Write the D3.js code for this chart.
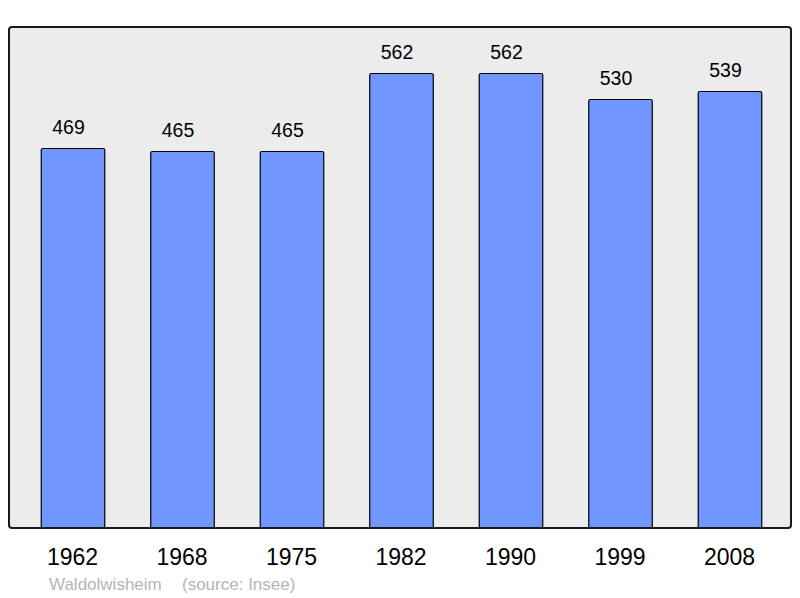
<!DOCTYPE html>
<html>
<head>
<meta charset="utf-8">
<script src="https://cdn.jsdelivr.net/npm/d3@7"></script>
<style>
	body { margin: 0; background: #ffffff; }
	text { font-family: "Liberation Sans", Arial, sans-serif; }
	.val { font-size: 19.5px; fill: #000; }
	.note { font-size: 17px; fill: #b5b5b5; }
</style>
</head>
<body>
<svg></svg>
<script>
	var years = ["1962", "1968", "1975", "1982", "1990", "1999", "2008"];
	var population = [469, 465, 465, 562, 562, 530, 539];
	var commune = "Waldolwisheim";
	var source = "(source: Insee)";

	var size = { wt: 800, ht: 598 };
	var plot = { x0: 9, x1: 791, y0: 27, y1: 528 };

	var svg = d3.select("svg")
		.attr("width", size.wt)
		.attr("height", size.ht);

	var xScale = d3.scaleBand()
		.domain(years)
		.range([plot.x0, plot.x1 + 2])
		.paddingInner(0.42)
		.paddingOuter(0.29);

	var yScale = d3.scaleLinear()
		.domain([0, 620])
		.range([plot.y1, plot.y0]);

	// frame
	svg.append("rect")
		.attr("x", plot.x0).attr("y", plot.y0)
		.attr("width", plot.x1 - plot.x0)
		.attr("height", plot.y1 - plot.y0)
		.attr("rx", 3).attr("ry", 3)
		.style("fill", "#ececec")
		.style("stroke", "none");

	var data = years.map(function (y, i) { return { year: y, value: population[i] }; });

	svg.append("g").selectAll("rect").data(data)
		.enter()
		.append("rect")
		.attr("x", function (d) { return xScale(d.year) + 0.5; })
		.attr("y", function (d) { return Math.round(yScale(d.value)) - 0.5; })
		.attr("width", xScale.bandwidth())
		.attr("height", function (d) { return plot.y1 - Math.round(yScale(d.value)) + 1; })
		.attr("rx", 1.5)
		.style("fill", "#7097ff")
		.style("stroke", "#000")
		.style("stroke-width", 1.2);

	// value labels sit a little left of the bar centre in the original
	svg.append("g").selectAll("text").data(data)
		.enter()
		.append("text")
		.attr("class", "val")
		.attr("text-anchor", "middle")
		.attr("x", function (d) { return xScale(d.year) + xScale.bandwidth() / 2 - 4; })
		.attr("y", function (d) { return yScale(d.value) - 15; })
		.text(function (d) { return d.value; });

	// frame outline on top
	svg.append("rect")
		.attr("x", plot.x0).attr("y", plot.y0)
		.attr("width", plot.x1 - plot.x0)
		.attr("height", plot.y1 - plot.y0)
		.attr("rx", 3).attr("ry", 3)
		.style("fill", "none")
		.style("stroke", "#1a1a1a")
		.style("stroke-width", 2);

	var xAxis = d3.axisBottom(xScale).tickSize(0).tickPadding(0);
	var ax = svg.append("g")
		.attr("transform", "translate(0," + plot.y1 + ")")
		.call(xAxis);
	ax.select(".domain").remove();
	ax.selectAll("text")
		.attr("dy", null)
		.attr("y", 37)
		.style("font-size", "23px")
		.style("font-family", "'Liberation Sans', Arial, sans-serif")
		.style("fill", "#000");

	svg.append("text")
		.attr("class", "note")
		.attr("x", 49).attr("y", 590)
		.text(commune);
	svg.append("text")
		.attr("class", "note")
		.attr("x", 182).attr("y", 590)
		.text(source);
</script>
</body>
</html>
